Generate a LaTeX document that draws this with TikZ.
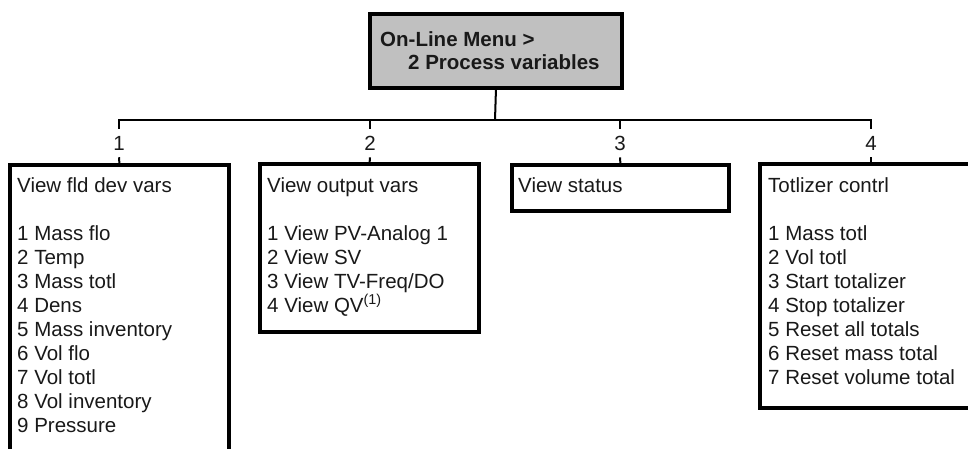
\documentclass[tikz,border=0pt]{standalone}
\usepackage{fontspec}
\setmainfont{Liberation Sans}
\usetikzlibrary{calc}
\definecolor{menugray}{RGB}{192,192,192}
\begin{document}
\begin{tikzpicture}[x=1pt,y=-1pt,
  box/.style={draw=black, line width=3.5pt, fill=white, anchor=north west, inner sep=0pt, outer sep=0pt},
  txt/.style={anchor=base west, inner sep=0pt, font=\fontsize{20.5}{24}\selectfont, text=black!90},
  lbl/.style={inner xsep=0pt, inner ysep=7pt, font=\fontsize{20.5}{24}\selectfont, text=black!90},
  conn/.style={draw=black, line width=2pt}]
\useasboundingbox (0,0) rectangle (968,449);
\clip (0,0) rectangle (968,449);
% top box
\node[box, fill=menugray, minimum width=252pt, minimum height=74pt] (top) at (370,14) {};
\node[txt, font=\fontsize{20.5}{23}\selectfont\bfseries] (toptext) at (380,47)
  {\parbox[t]{240pt}{On-Line Menu >\\\hspace*{28pt}2 Process variables}};
% hub
\coordinate (hub) at (495,120);
% labels
\node[lbl] (l1) at (119,143) {1};
\node[lbl] (l2) at (370,143) {2};
\node[lbl] (l3) at (620,143) {3};
\node[lbl] (l4) at (871,143) {4};
% boxes
\node[box, minimum width=219pt, minimum height=310pt] (b1) at (10,165) {};
\node[box, minimum width=219pt, minimum height=168pt] (b2) at (260,164) {};
\node[box, minimum width=217pt, minimum height=46pt] (b3) at (512,165) {};
\node[box, minimum width=222pt, minimum height=244pt] (b4) at (760,164) {};
% connectors
\draw[conn] (top.south) -- (hub);
\draw[conn] (l1.north) |- (hub);
\draw[conn] (l4.north) |- (hub);
\draw[conn] (l2.north) -- (l2.north |- hub);
\draw[conn] (l3.north) -- (l3.north |- hub);
\draw[conn] (l1.south) -- (b1.north);
\draw[conn] (l2.south) -- (b2.north);
\draw[conn] (l3.south) -- (b3.north);
\draw[conn] (l4.south) -- (b4.north);
% box texts
\node[txt] (t1) at (17,192) {\parbox[t]{210pt}{View fld dev vars\\[24pt]1 Mass flo\\2 Temp\\3 Mass totl\\4 Dens\\5 Mass inventory\\6 Vol flo\\7 Vol totl\\8 Vol inventory\\9 Pressure}};
\node[txt] (t2) at (267,192) {\parbox[t]{210pt}{View output vars\\[24pt]1 View PV-Analog 1\\2 View SV\\3 View TV-Freq/DO\\4 View QV\textsuperscript{(1)}}};
\node[txt] (t3) at (518,192) {View status};
\node[txt] (t4) at (768,192) {\parbox[t]{200pt}{Totlizer contrl\\[24pt]1 Mass totl\\2 Vol totl\\3 Start totalizer\\4 Stop totalizer\\5 Reset all totals\\6 Reset mass total\\7 Reset volume total}};
\end{tikzpicture}
\end{document}
